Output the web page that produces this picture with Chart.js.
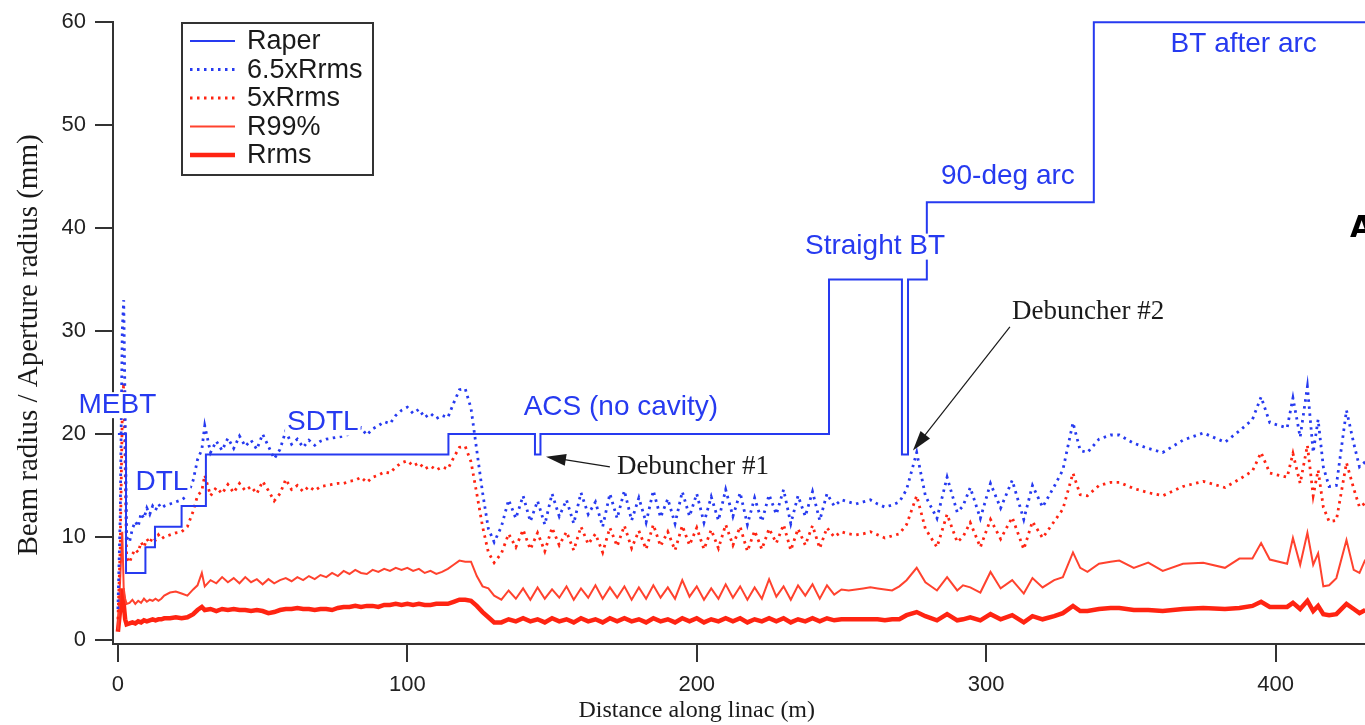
<!DOCTYPE html>
<html>
<head>
<meta charset="utf-8">
<script src="https://cdn.jsdelivr.net/npm/chart.js@4.4.1/dist/chart.umd.min.js"></script>
<style>
  html, body { margin: 0; padding: 0; background: #fff; }
  #wrap { width: 1365px; height: 725px; }
</style>
</head>
<body>
<div id="wrap"><canvas id="myChart" width="1365" height="725"></canvas></div>
<script>
// distance along linac (m), shared by the four beam size curves
var dist = [
  0, 0.8, 1.5, 2, 2.5, 3, 4, 5, 6, 7, 8, 9, 10, 11, 12, 13, 14, 15, 16, 18, 20, 22, 24, 26, 27.5, 29, 30,
  32, 34, 36, 38, 40, 42, 44, 46, 48, 50, 52, 54, 56, 58, 60, 62, 64, 66, 68, 70, 72, 74, 76, 78,
  80, 82, 84, 86, 88, 90, 92, 94, 96, 98, 100, 102, 104, 106, 108, 110, 112, 114, 116, 118, 120, 122, 124, 126, 128, 130,
  132.5, 135, 137.5, 140, 142.5, 145, 147.5, 150, 152.5, 155,
  157.5, 160, 162.5, 165, 167.5, 170, 172.5, 175, 177.5, 180,
  182.5, 185, 187.5, 190, 192.5, 195, 197.5, 200, 202.5, 205,
  207.5, 210, 212.5, 215, 217.5, 220, 222.5, 225, 227.5, 230,
  232.5, 235, 237.5, 240, 242.5, 245, 247.5, 250, 252.5, 255,
  257.5, 260, 262.5, 265, 267.5, 270,
  272.5, 276, 279, 283, 286.5, 290, 292, 294.5, 298, 301.5,
  305, 309, 313, 316, 319.5, 323.5, 326.5, 330, 332.5, 335,
  339, 343, 346, 351, 356, 361, 368, 375, 382.5, 387.5,
  392, 395, 398, 404, 406, 408.5, 411, 413, 414.7, 416.5,
  418.5, 421, 424.5, 427, 429, 431
];

// 6.5 x Rrms (mm)
var r65 = [
  3, 12, 30, 33, 22, 10, 9.5, 10.8, 11.5, 11, 12.3, 11.8, 12.8, 12.2, 13, 12.6, 13.2, 12.8, 13, 13.2, 13.4, 13.6, 14, 15.5, 17.5, 18.5, 20.8,
  18.2, 19.3, 18.4, 19.6, 18.6, 19.8, 18.8, 19.4, 18.5, 20.0, 18.8, 17.6, 18.5, 20.3, 19.0, 19.5, 18.7, 19.4, 18.9, 19.3, 19.5, 19.6, 19.7, 19.8,
  20.0, 20.2, 20.6, 19.9, 20.5, 20.8, 21.2, 21.0, 21.8, 22.3, 22.6, 22.0, 22.4, 21.6, 22.0, 21.5, 21.8, 21.6, 23.0, 24.3, 24.4, 22.5, 18.4, 14.3, 10.8, 9.5,
  11.0, 13.6, 11.8, 14.0, 11.5, 13.5, 11.2, 14.2, 12.0, 13.6,
  11.3, 14.3, 12.2, 13.4, 11.0, 14.2, 11.8, 14.5, 11.6, 13.8,
  11.4, 14.5, 11.9, 13.7, 11.3, 14.4, 12.0, 14.2, 11.4, 13.9,
  11.6, 14.6, 12.0, 14.3, 11.2, 13.8, 11.5, 14.1, 12.2, 14.6,
  11.3, 14.0, 12.0, 14.4, 11.6, 14.2, 13.0, 13.6, 13.4, 13.2,
  13.4, 13.6, 13.2, 12.9, 13.1, 13.4,
  14.6, 18.2, 14.0, 11.8, 15.8, 12.4, 13.0, 14.8, 11.8, 15.2,
  12.8, 15.5, 11.7, 15.0, 12.9, 14.9, 16.5, 21.1, 18.4, 18.2,
  19.5, 19.9, 19.9, 19.1, 18.6, 18.2, 19.4, 20.1, 19.2, 20.3,
  21.4, 23.6, 21.1, 20.6, 23.5, 19.7, 24.6, 18.2, 21.4, 16.8,
  14.9, 15.0, 22.3, 19.1, 16.8, 17.3
];

// 5 x Rrms (mm)
var r5 = [
  2, 9, 22, 25, 17, 8, 7.5, 8.3, 8.8, 8.5, 9.5, 9, 9.8, 9.4, 10, 9.7, 10.2, 9.8, 10, 10.2, 10.4, 10.5, 11, 12.5, 14, 14.5, 16,
  14.0, 14.8, 14.2, 15.1, 14.3, 15.2, 14.5, 14.9, 14.2, 15.4, 14.5, 13.5, 14.2, 15.6, 14.6, 15.0, 14.4, 14.9, 14.5, 14.9, 15.0, 15.1, 15.2, 15.2,
  15.4, 15.5, 15.8, 15.3, 15.8, 16.0, 16.3, 16.2, 16.8, 17.2, 17.4, 16.9, 17.2, 16.6, 16.9, 16.5, 16.8, 16.6, 17.7, 18.7, 18.8, 17.3, 14.2, 11.0, 8.5, 7.5,
  8.4, 10.3, 9.0, 10.7, 8.8, 10.4, 8.6, 10.9, 9.2, 10.5,
  8.7, 11.0, 9.3, 10.3, 8.5, 10.9, 9.1, 11.1, 8.9, 10.6,
  8.8, 11.2, 9.1, 10.5, 8.7, 11.1, 9.2, 10.9, 8.8, 10.7,
  8.9, 11.2, 9.2, 11.0, 8.6, 10.6, 8.8, 10.8, 9.4, 11.2,
  8.7, 10.8, 9.2, 11.1, 8.9, 10.9, 10.0, 10.5, 10.3, 10.2,
  10.3, 10.5, 10.2, 9.9, 10.1, 10.3,
  11.2, 14.0, 10.8, 9.0, 12.2, 9.5, 10.0, 11.4, 9.0, 11.7,
  9.8, 11.9, 8.8, 11.5, 9.9, 11.5, 12.7, 16.2, 14.1, 14.0,
  15.0, 15.3, 15.3, 14.7, 14.3, 14.0, 14.9, 15.4, 14.8, 15.6,
  16.4, 18.2, 16.2, 15.8, 18.1, 15.2, 18.9, 14.0, 16.5, 12.9,
  11.5, 11.6, 17.2, 14.7, 12.9, 13.3
];

// R99% (mm)
var r99 = [
  1, 6, 10.5, 5, 4, 3.5, 3.6, 3.9, 3.5, 3.8, 3.6, 4, 3.7, 3.9, 3.8, 4, 3.8, 4.0, 4.3, 4.6, 4.7, 4.5, 4.3, 4.9, 5.3, 6.5, 5.2,
  5.8, 5.5, 6.1, 5.6, 6.0, 5.5, 6.1, 5.6, 5.9, 5.4, 5.9, 5.5, 5.8, 6.0, 5.7, 6.1, 5.8, 6.2, 5.9, 6.3, 6.1, 6.5, 6.2, 6.7,
  6.4, 6.8, 6.5, 6.4, 6.8, 6.6, 6.9, 6.7, 7.0, 6.8, 7.0, 6.7, 6.9, 6.5, 6.7, 6.4, 6.6, 6.9, 7.3, 7.7, 7.6, 7.6, 6.2, 5.2, 5.0, 4.3,
  3.9, 4.8, 4.0, 5.0, 3.9, 5.1, 4.0, 4.9, 4.1, 5.2,
  3.9, 5.0, 4.1, 5.3, 4.0, 5.1, 4.1, 5.2, 3.9, 5.1,
  4.0, 5.3, 4.1, 5.1, 4.0, 5.8, 4.2, 5.2, 3.9, 5.0,
  4.0, 5.4, 4.1, 5.2, 3.9, 5.1, 4.0, 5.9, 4.2, 5.2,
  3.9, 5.3, 4.3, 5.4, 4.0, 5.3, 4.4, 4.9, 4.8, 4.9,
  5.0, 5.1, 5.0, 4.9, 4.8, 5.2,
  5.8, 7.0, 5.6, 4.8, 6.1, 4.8, 5.3, 5.1, 4.6, 6.6,
  5.0, 5.8, 4.5, 6.0, 5.1, 5.8, 6.1, 8.5, 7.0, 6.6,
  7.4, 7.6, 7.7, 7.0, 7.5, 6.7, 7.4, 7.5, 7.0, 7.9,
  7.9, 9.4, 7.8, 7.4, 9.9, 7.3, 10.4, 7.3, 8.4, 5.2,
  5.3, 6.0, 9.7, 6.8, 6.5, 7.8
];

// Rrms (mm)
var rrms = [
  0.8, 3, 5, 3.5, 2, 1.5, 1.6, 1.7, 1.6, 1.8, 1.7, 1.9, 1.8, 1.9, 2, 1.9, 2.0, 2.0, 2.1, 2.1, 2.2, 2.1, 2.2, 2.5, 2.9, 3.2, 2.9,
  3.0, 2.8, 3.0, 2.9, 3.0, 2.9, 2.9, 2.8, 2.9, 2.8, 2.6, 2.7, 2.9, 3.0, 3.0, 3.1, 3.0, 3.0, 2.9, 3.0, 3.0, 2.9, 3.1, 3.2,
  3.2, 3.3, 3.2, 3.3, 3.3, 3.2, 3.4, 3.4, 3.5, 3.4, 3.5, 3.4, 3.5, 3.4, 3.4, 3.5, 3.5, 3.5, 3.7, 3.9, 3.9, 3.8, 3.3, 2.7, 2.2, 1.7,
  1.7, 2.0, 1.8, 2.1, 1.8, 2.0, 1.7, 2.1, 1.8, 2.0,
  1.7, 2.1, 1.8, 2.0, 1.7, 2.1, 1.8, 2.1, 1.8, 2.0,
  1.7, 2.1, 1.8, 2.0, 1.7, 2.1, 1.8, 2.1, 1.7, 2.0,
  1.8, 2.1, 1.8, 2.1, 1.7, 2.0, 1.8, 2.1, 1.8, 2.1,
  1.7, 2.0, 1.8, 2.1, 1.8, 2.1, 1.9, 2.0, 2.0, 2.0,
  2.0, 2.0, 2.0, 1.9, 2.0, 2.0,
  2.4, 2.7, 2.3, 1.9, 2.5, 1.9, 2.0, 2.2, 1.9, 2.5,
  2.0, 2.4, 1.7, 2.3, 2.0, 2.3, 2.6, 3.3, 2.8, 2.8,
  3.0, 3.1, 3.1, 2.9, 2.9, 2.8, 3.0, 3.1, 3.0, 3.1,
  3.3, 3.7, 3.2, 3.2, 3.6, 3.0, 3.8, 2.8, 3.3, 2.5,
  2.4, 2.5, 3.5, 3.0, 2.6, 2.9
];

// aperture radius, step corners (m, mm)
var apX = [0, 2.8, 2.8, 9.5, 9.5, 12.8, 12.8, 22, 22, 30.4, 30.4, 114.2, 114.2, 144.1, 144.1, 146, 146,
           245.7, 245.7, 270.9, 270.9, 273, 273, 279.5, 279.5, 337.2, 337.2, 431];
var apY = [20, 20, 6.5, 6.5, 9, 9, 11, 11, 13, 13, 18, 18, 20, 20, 18, 18, 20,
           20, 35, 35, 18, 18, 35, 35, 42.5, 42.5, 60, 60];

var xTicks = [0, 100, 200, 300, 400];
var yTicks = [0, 10, 20, 30, 40, 50, 60];

var sections = ['MEBT', 'DTL', 'SDTL', 'ACS (no cavity)', 'Straight BT', '90-deg arc', 'BT after arc'];
var sectionX = [-0.2, 15.2, 70.8, 173.8, 261.6, 307.5, 389];
var sectionY = [22.8, 15.3, 21.1, 22.6, 38.2, 45.0, 57.9];

var notes = ['Debuncher #1', 'Debuncher #2'];
var noteX = [198.7, 335.2];
var noteY = [16.8, 31.9];
var tailX = [170.0, 308.2];
var tailY = [16.8, 30.4];
var tipX = [147.9, 274.7];
var tipY = [17.8, 18.4];

var blue = 'rgb(38,58,240)';
var red = 'rgb(255,36,18)';
var red99 = 'rgb(255,66,46)';
var sans = '"Liberation Sans", Arial, sans-serif';
var serif = '"Liberation Serif", "Times New Roman", serif';

function pts(xs, ys) {
  return xs.map(function (x, i) { return {x: x, y: ys[i]}; });
}

function arrow(ctx, x1, y1, x2, y2) {
  var a = Math.atan2(y2 - y1, x2 - x1), len = 20, half = 6;
  ctx.beginPath();
  ctx.moveTo(x1, y1);
  ctx.lineTo(x2 - Math.cos(a) * len * 0.7, y2 - Math.sin(a) * len * 0.7);
  ctx.stroke();
  ctx.beginPath();
  ctx.moveTo(x2, y2);
  ctx.lineTo(x2 - len * Math.cos(a) + half * Math.sin(a), y2 - len * Math.sin(a) - half * Math.cos(a));
  ctx.lineTo(x2 - len * Math.cos(a) - half * Math.sin(a), y2 - len * Math.sin(a) + half * Math.cos(a));
  ctx.closePath();
  ctx.fill();
}

var extras = {
  id: 'extras',
  afterDatasetsDraw: function (chart) {
    var ctx = chart.ctx, xs = chart.scales.x, ys = chart.scales.y;
    ctx.save();

    // section labels (opaque boxes, like the original)
    ctx.font = '28px ' + sans;
    ctx.textAlign = 'center';
    ctx.textBaseline = 'middle';
    sections.forEach(function (t, i) {
      var px = xs.getPixelForValue(sectionX[i]), py = ys.getPixelForValue(sectionY[i]);
      var w = ctx.measureText(t).width;
      ctx.fillStyle = '#fff';
      ctx.fillRect(px - w / 2 - 2, py - 13, w + 4, 26);
      ctx.fillStyle = blue;
      ctx.fillText(t, px, py);
    });

    // debuncher pointers
    ctx.font = '27px ' + serif;
    ctx.fillStyle = '#1a1a1a';
    ctx.strokeStyle = '#1a1a1a';
    ctx.lineWidth = 1.2;
    notes.forEach(function (t, i) {
      var px = xs.getPixelForValue(noteX[i]), py = ys.getPixelForValue(noteY[i]);
      ctx.textAlign = 'center';
      ctx.fillText(t, px, py);
      arrow(ctx, xs.getPixelForValue(tailX[i]), ys.getPixelForValue(tailY[i]),
            xs.getPixelForValue(tipX[i]), ys.getPixelForValue(tipY[i]));
    });

    // clipped glyph at the right edge
    ctx.font = 'bold 30px "DejaVu Sans", sans-serif';
    ctx.textAlign = 'left';
    ctx.fillStyle = '#000';
    ctx.fillText('A', 1350, 229);

    // legend box
    ctx.fillStyle = '#fff';
    ctx.fillRect(182, 23, 191, 152);
    ctx.strokeStyle = '#333';
    ctx.lineWidth = 2;
    ctx.strokeRect(182, 23, 191, 152);
    ctx.font = '27px ' + sans;
    ctx.textAlign = 'left';
    ctx.textBaseline = 'middle';
    chart.data.datasets.forEach(function (ds, i) {
      var y = 41 + i * 28.5;
      ctx.strokeStyle = ds.borderColor;
      ctx.lineWidth = ds.borderWidth;
      ctx.setLineDash(ds.borderDash || []);
      ctx.beginPath();
      ctx.moveTo(190, y);
      ctx.lineTo(235, y);
      ctx.stroke();
      ctx.setLineDash([]);
      ctx.fillStyle = '#1a1a1a';
      ctx.fillText(ds.label, 247, y + 1);
    });

    // axis titles
    ctx.fillStyle = '#1a1a1a';
    ctx.font = '24px ' + serif;
    ctx.textAlign = 'center';
    ctx.fillText('Distance along linac (m)', xs.getPixelForValue(200), 711);
    ctx.translate(29, 345);
    ctx.rotate(-Math.PI / 2);
    ctx.font = '29px ' + serif;
    ctx.fillText('Beam radius / Aperture radius (mm)', 0, 0);
    ctx.restore();
  }
};

var ctx = document.getElementById('myChart').getContext('2d');
var myChart = new Chart(ctx, {
  type: 'scatter',
  data: {
    datasets: [{
        label: 'Raper',
        data: pts(apX, apY),
        borderColor: blue,
        borderWidth: 2,
        clip: false
      }, {
        label: '6.5xRrms',
        data: pts(dist, r65),
        borderColor: blue,
        borderWidth: 2.8,
        borderDash: [2.5, 4.5]
      }, {
        label: '5xRrms',
        data: pts(dist, r5),
        borderColor: red,
        borderWidth: 2.8,
        borderDash: [2.5, 4.5]
      }, {
        label: 'R99%',
        data: pts(dist, r99),
        borderColor: red99,
        borderWidth: 2
      }, {
        label: 'Rrms',
        data: pts(dist, rrms),
        borderColor: red,
        borderWidth: 4.5
      }
    ]
  },
  options: {
    responsive: false,
    animation: false,
    devicePixelRatio: 1,
    showLine: true,
    elements: {
      point: { radius: 0, hoverRadius: 0 },
      line: { tension: 0, fill: false, borderCapStyle: 'butt', borderJoinStyle: 'miter' }
    },
    layout: { padding: { top: 22, right: 0, bottom: 0, left: 0 } },
    plugins: {
      legend: { display: false },
      tooltip: { enabled: false }
    },
    scales: {
      x: {
        type: 'linear',
        min: -1.7,
        max: 430.9,
        afterFit: function (s) { s.height = 81; },
        afterBuildTicks: function (s) { s.ticks = xTicks.map(function (v) { return {value: v}; }); },
        grid: { drawOnChartArea: false, color: '#333', lineWidth: 2, tickLength: 18 },
        border: { color: '#333', width: 2 },
        ticks: { color: '#222', padding: 10, maxRotation: 0, font: { family: sans, size: 22 } }
      },
      y: {
        type: 'linear',
        min: -0.4,
        max: 60,
        afterFit: function (s) { s.width = 113; },
        afterBuildTicks: function (s) { s.ticks = yTicks.map(function (v) { return {value: v}; }); },
        grid: { drawOnChartArea: false, color: '#333', lineWidth: 2, tickLength: 18 },
        border: { color: '#333', width: 2 },
        ticks: { color: '#222', padding: 9, font: { family: sans, size: 22 } }
      }
    }
  },
  plugins: [extras]
});
</script>
</body>
</html>
